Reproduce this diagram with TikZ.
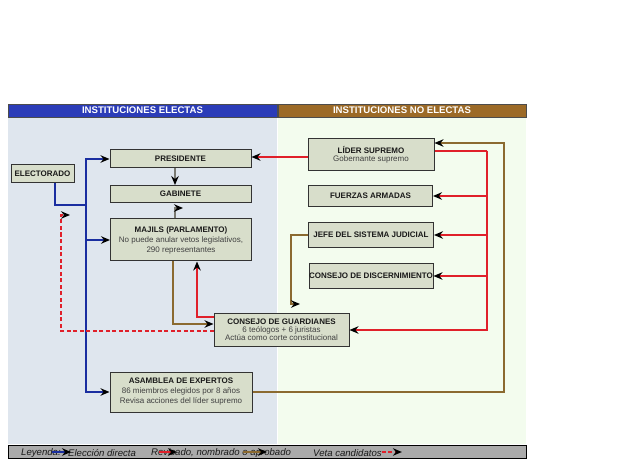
\documentclass[tikz,border=0pt]{standalone}
\usepackage{fontspec}
\setmainfont{Liberation Sans}
\usetikzlibrary{arrows.meta,calc}
\definecolor{hdblue}{HTML}{2B3CB8}
\definecolor{hdbrown}{HTML}{9C6A27}
\definecolor{panelL}{HTML}{DFE6EE}
\definecolor{panelR}{HTML}{F3FCEE}
\definecolor{boxfill}{HTML}{D8DECB}
\definecolor{lgray}{HTML}{AAAAAA}
\definecolor{cblue}{HTML}{1A2EA0}
\definecolor{cred}{HTML}{E0202A}
\definecolor{cbrown}{HTML}{8B6A30}
\definecolor{cgray}{HTML}{7A7A72}
\tikzset{
  inst/.style={draw=black!80, line width=1pt, fill=boxfill, align=center,
    inner sep=1pt, font=\fontsize{8}{10}\selectfont, text=black!90},
  hdr/.style={font=\fontsize{9.6}{10}\selectfont\bfseries, text=white},
  tipk/.style={-{Stealth[length=9pt,width=7.5pt,inset=3pt,black]}},
  conn/.style={line width=1.6pt},
  lg/.style={anchor=west, font=\fontsize{9.6}{10}\selectfont\itshape, text=black!90, inner sep=0pt}
}
\newcommand{\sub}[1]{{\fontseries{m}\selectfont\color{black!75}#1}}
\begin{document}
\begin{tikzpicture}[x=1pt,y=-1pt]
\useasboundingbox (0,0) rectangle (640,473);
\fill[white] (0,0) rectangle (640,473);
% panels
\fill[panelL] (8,117) rectangle (277,444);
\fill[panelR] (278,117) rectangle (526,444);
% headers
\node[hdr, fill=hdblue, draw=black!70, minimum width=269pt, minimum height=13pt, inner sep=0pt] (hL) at (142.5,110.5) {INSTITUCIONES ELECTAS};
\node[hdr, fill=hdbrown, draw=black!70, minimum width=248pt, minimum height=13pt, inner sep=0pt] (hR) at (402,110.5) {INSTITUCIONES NO ELECTAS};
% boxes
\node[inst, minimum width=141pt, minimum height=18pt] (pres) at (180.5,159) {\bfseries PRESIDENTE};
\node[inst, minimum width=141pt, minimum height=17pt] (gab) at (180.5,194) {\bfseries GABINETE};
\node[inst, minimum width=141pt, minimum height=42pt] (maj) at (181,240) {\bfseries MAJILS (PARLAMENTO)\\\sub{No puede anular vetos legislativos,}\\\sub{290 representantes}};
\node[inst, minimum width=63pt, minimum height=18pt] (elec) at (42.5,174) {\bfseries ELECTORADO};
\node[inst, minimum width=135pt, minimum height=33pt] (guard) at (281.5,330) {\bfseries CONSEJO DE GUARDIANES\\[-2pt]\sub{6 teólogos + 6 juristas}\\[-2pt]\sub{Actúa como corte constitucional}};
\node[inst, minimum width=142pt, minimum height=40pt] (asam) at (181,392) {\bfseries ASAMBLEA DE EXPERTOS\\\sub{86 miembros elegidos por 8 años}\\\sub{Revisa acciones del líder supremo}};
\node[inst, minimum width=126pt, minimum height=32pt] (lider) at (371,155) {\bfseries LÍDER SUPREMO\\[-2pt]\sub{Gobernante supremo}};
\node[inst, minimum width=124pt, minimum height=21pt] (fuer) at (370.5,196) {\bfseries FUERZAS ARMADAS};
\node[inst, minimum width=125pt, minimum height=25pt] (jefe) at (371,235) {\bfseries JEFE DEL SISTEMA JUDICIAL};
\node[inst, minimum width=124pt, minimum height=25pt, inner sep=0pt] (disc) at (371,276) {\bfseries CONSEJO DE DISCERNIMIENTO};
% blue: direct election
\coordinate (bj) at (86,205);
\draw[conn, cblue] ($(elec.south)+(12.5,0)$) |- (bj);
\draw[conn, cblue, tipk] (bj) |- (pres.west);
\draw[conn, cblue, tipk] (bj) |- (maj.west);
\draw[conn, cblue, tipk] (bj) |- (asam.west);
% red: from lider
\coordinate (rj) at (487,151);
\draw[conn, cred] ($(lider.east)+(0,-4)$) -- (rj);
\draw[conn, cred, tipk] (rj) |- (fuer.east);
\draw[conn, cred, tipk] (rj) |- (jefe.east);
\draw[conn, cred, tipk] (rj) |- (disc.east);
\draw[conn, cred, tipk] (rj) |- (guard.east);
\draw[conn, cred, tipk] ($(lider.west)+(0,2)$) -- (pres.east |- 0,157);
% brown: asamblea -> lider
\coordinate (bk) at (504,392);
\draw[conn, cbrown, tipk] (asam.east) -- (bk) |- ($(lider.east)+(0,-12)$);
% brown: jefe -> guardianes
\coordinate (jk) at (291,304);
\draw[conn, cbrown, tipk] (jefe.west) -| (jk) -- ++(9,0);
% brown: majils -> guardianes
\draw[conn, cbrown, tipk] (maj.south -| 173,0) |- ($(guard.west)+(0,-6)$);
% red: guardianes -> majils
\draw[conn, cred, tipk] ($(guard.west)+(0,-13)$) -| (maj.south -| 197,0);
% red dashed: guardianes vetoes candidates
\coordinate (dk) at (61,215);
\draw[conn, cred, dash pattern=on 4pt off 2.5pt, tipk] ($(guard.west)+(0,1)$) -| (dk) -- ++(9,0);
% gray: presidente -> gabinete, majils -> gabinete
\draw[conn, cgray, tipk] (pres.south -| 175,0) -- (gab.north -| 175,0);
\coordinate (gk) at (175,208);
\draw[conn, cgray, tipk] (maj.north -| 175,0) -- (gk) -- ++(8,0);
% legend
\node[draw=black, line width=1pt, fill=lgray, minimum width=518pt, minimum height=13pt, inner sep=0pt] (leg) at (267,451.5) {};
\node[lg] (l1) at (21,453) {Leyenda:};
\node[lg] (l2) at (68,453) {Elección directa};
\node[lg] (l3) at (151,453) {Revisado, nombrado o aprobado};
\node[lg] (l4) at (313,453) {Veta candidatos};
\coordinate (a1) at (52,452); \coordinate (b1) at (71,452);
\draw[conn, cblue, tipk] (a1) -- (b1);
\coordinate (a2) at (159,452); \coordinate (b2) at (177,452);
\draw[conn, cred, tipk] (a2) -- (b2);
\coordinate (a3) at (243,452); \coordinate (b3) at (267,452);
\draw[conn, cbrown, tipk] (a3) -- (b3);
\draw[conn, cred, dash pattern=on 4pt off 2.5pt, tipk] ($(l4.east)+(0,-1)$) -- ++(20,0);
\end{tikzpicture}
\end{document}
